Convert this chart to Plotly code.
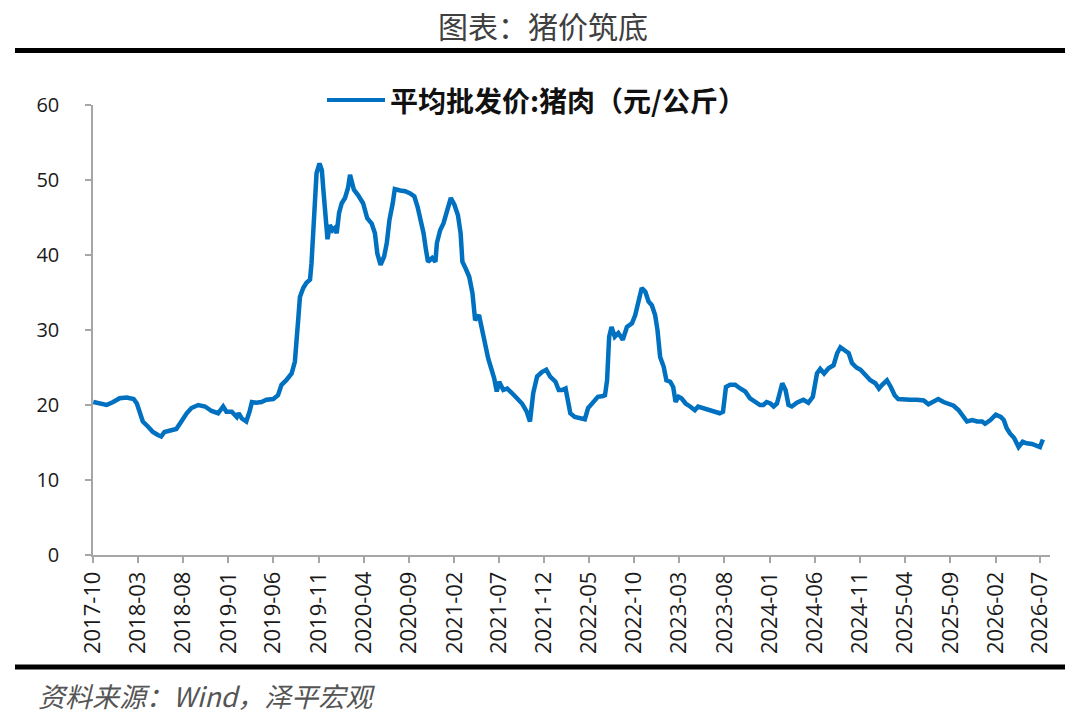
import plotly.graph_objects as go

title_text = "图表：猪价筑底"
series_name = "平均批发价:猪肉（元/公斤）"
source_text = "资料来源：Wind，泽平宏观"

dates = [
    "2017-10-02", "2017-10-24", "2017-11-16", "2017-12-08", "2017-12-30", "2018-01-23", "2018-02-15", "2018-02-26",
    "2018-03-07", "2018-03-18", "2018-04-05", "2018-04-21", "2018-05-08", "2018-05-19", "2018-05-30", "2018-06-22",
    "2018-07-09", "2018-07-26", "2018-08-13", "2018-08-29", "2018-09-21", "2018-10-14", "2018-11-05", "2018-11-27",
    "2018-12-14", "2018-12-25", "2019-01-12", "2019-01-29", "2019-02-04", "2019-02-15", "2019-03-02", "2019-03-13",
    "2019-03-21", "2019-04-05", "2019-04-22", "2019-05-09", "2019-06-01", "2019-06-17", "2019-06-29", "2019-07-15",
    "2019-08-02", "2019-08-13", "2019-08-19", "2019-08-24", "2019-08-30", "2019-09-10", "2019-09-21", "2019-10-03",
    "2019-10-08", "2019-10-14", "2019-10-19", "2019-10-25", "2019-11-04", "2019-11-12", "2019-11-17", "2019-11-23",
    "2019-12-01", "2019-12-09", "2019-12-18", "2019-12-26", "2020-01-01", "2020-01-09", "2020-01-18", "2020-01-29",
    "2020-02-08", "2020-02-15", "2020-02-21", "2020-02-28", "2020-03-13", "2020-03-30", "2020-04-13", "2020-04-28",
    "2020-05-09", "2020-05-17", "2020-05-28", "2020-06-09", "2020-06-18", "2020-06-27", "2020-07-08", "2020-07-15",
    "2020-08-02", "2020-08-19", "2020-09-05", "2020-09-19", "2020-09-30", "2020-10-11", "2020-10-20", "2020-10-28",
    "2020-11-04", "2020-11-18", "2020-11-29", "2020-12-04", "2020-12-15", "2020-12-26", "2021-01-07", "2021-01-20",
    "2021-02-01", "2021-02-13", "2021-02-22", "2021-02-28", "2021-03-11", "2021-03-23", "2021-04-03", "2021-04-12",
    "2021-04-25", "2021-05-04", "2021-05-15", "2021-05-26", "2021-06-05", "2021-06-15", "2021-06-24", "2021-07-02",
    "2021-07-16", "2021-07-29", "2021-08-14", "2021-08-30", "2021-09-17", "2021-10-03", "2021-10-14", "2021-10-25",
    "2021-11-07", "2021-11-23", "2021-12-08", "2021-12-21", "2022-01-08", "2022-01-19", "2022-01-30", "2022-02-11",
    "2022-02-19", "2022-02-27", "2022-03-14", "2022-03-30", "2022-04-17", "2022-04-28", "2022-05-15", "2022-05-31",
    "2022-06-18", "2022-06-24", "2022-07-01", "2022-07-08", "2022-07-16", "2022-07-27", "2022-08-08", "2022-08-23",
    "2022-09-06", "2022-09-23", "2022-10-04", "2022-10-15", "2022-10-26", "2022-11-07", "2022-11-18", "2022-11-29",
    "2022-12-10", "2022-12-18", "2022-12-27", "2023-01-08", "2023-01-17", "2023-01-30", "2023-02-09", "2023-02-17",
    "2023-02-27", "2023-03-09", "2023-03-23", "2023-04-07", "2023-04-23", "2023-05-04", "2023-05-21", "2023-06-13",
    "2023-06-30", "2023-07-16", "2023-07-27", "2023-08-06", "2023-08-20", "2023-09-06", "2023-09-23", "2023-10-10",
    "2023-10-26", "2023-11-13", "2023-11-29", "2023-12-10", "2023-12-21", "2024-01-03", "2024-01-14", "2024-01-25",
    "2024-02-12", "2024-02-23", "2024-03-04", "2024-03-15", "2024-04-01", "2024-04-23", "2024-05-10", "2024-05-25",
    "2024-06-08", "2024-06-19", "2024-07-02", "2024-07-17", "2024-08-03", "2024-08-15", "2024-08-26", "2024-09-09",
    "2024-09-23", "2024-10-04", "2024-10-19", "2024-11-02", "2024-11-19", "2024-12-05", "2024-12-22", "2025-01-03",
    "2025-01-14", "2025-01-30", "2025-02-12", "2025-02-25", "2025-03-09", "2025-03-26", "2025-04-18", "2025-05-11",
    "2025-06-03", "2025-06-19", "2025-07-06", "2025-07-22", "2025-08-09", "2025-08-26", "2025-09-12", "2025-09-29",
    "2025-10-15", "2025-10-27", "2025-11-14", "2025-11-30", "2025-12-17", "2025-12-27", "2026-01-14", "2026-02-01",
    "2026-02-18", "2026-02-28", "2026-03-10", "2026-03-21", "2026-04-04", "2026-04-19", "2026-05-03", "2026-05-16",
    "2026-06-03", "2026-06-19", "2026-06-30", "2026-07-10",
]

prices = [
    20.4, 20.2, 20.0, 20.4, 20.9, 21.0, 20.8, 20.2,
    18.9, 17.8, 17.1, 16.4, 16.0, 15.8, 16.4, 16.7,
    16.8, 17.8, 18.9, 19.6, 20.0, 19.8, 19.2, 18.9,
    19.8, 19.1, 19.1, 18.4, 18.9, 18.2, 17.8, 19.1,
    20.4, 20.3, 20.4, 20.7, 20.8, 21.3, 22.7, 23.3,
    24.2, 25.8, 28.2, 31.3, 34.4, 35.6, 36.3, 36.7,
    38.9, 42.9, 47.8, 50.9, 52.2, 51.3, 48.7, 45.1,
    42.1, 44.0, 43.3, 43.6, 42.9, 45.6, 46.9, 47.6,
    48.9, 50.7, 49.8, 48.7, 48.0, 46.9, 44.9, 44.2,
    42.9, 40.2, 38.7, 39.8, 41.6, 44.7, 46.9, 48.8,
    48.6, 48.5, 48.2, 47.8, 46.4, 44.7, 42.9, 40.7,
    39.1, 39.6, 39.1, 41.6, 43.3, 44.2, 46.0, 47.6,
    46.7, 45.3, 42.9, 39.1, 38.2, 37.1, 34.9, 31.3,
    32.0, 30.2, 28.2, 26.2, 24.9, 23.6, 21.8, 23.1,
    22.0, 22.2, 21.6, 20.9, 20.2, 19.1, 17.8, 21.6,
    23.8, 24.4, 24.7, 23.8, 23.1, 22.0, 22.0, 22.2,
    20.2, 18.9, 18.4, 18.2, 18.1, 19.6, 20.4, 21.1,
    21.2, 21.3, 23.3, 29.1, 30.4, 29.1, 29.6, 28.7,
    30.4, 30.9, 32.0, 33.6, 35.6, 35.1, 33.8, 33.3,
    32.0, 30.0, 26.4, 25.1, 23.3, 23.1, 22.4, 20.4,
    21.1, 20.9, 20.2, 19.8, 19.3, 19.8, 19.6, 19.3,
    19.1, 18.9, 19.1, 22.4, 22.7, 22.7, 22.2, 21.8,
    20.9, 20.4, 20.0, 20.0, 20.4, 20.2, 19.8, 20.2,
    22.9, 22.0, 20.0, 19.8, 20.3, 20.7, 20.3, 21.1,
    24.2, 24.8, 24.2, 24.9, 25.3, 26.9, 27.7, 27.3,
    26.9, 25.6, 25.0, 24.7, 24.0, 23.3, 22.9, 22.2,
    22.7, 23.3, 22.4, 21.3, 20.8, 20.7, 20.7, 20.7,
    20.6, 20.1, 20.4, 20.8, 20.4, 20.1, 19.9, 19.3,
    18.4, 17.8, 18.0, 17.8, 17.8, 17.5, 18.0, 18.7,
    18.4, 18.0, 16.9, 16.2, 15.6, 14.4, 15.1, 14.9,
    14.8, 14.5, 14.4, 15.4,
]

tick_labels = [
    "2017-10", "2018-03", "2018-08", "2019-01", "2019-06", "2019-11", "2020-04", "2020-09",
    "2021-02", "2021-07", "2021-12", "2022-05", "2022-10", "2023-03", "2023-08", "2024-01",
    "2024-06", "2024-11", "2025-04", "2025-09", "2026-02", "2026-07",
]
y_ticks = [0, 10, 20, 30, 40, 50, 60]

# layout geometry (pixels)
L, R, T, B = 93, 30, 105, 165
PW = 1080 - L - R
PH = 720 - T - B


def px(x):
    return (x - L) / PW


def py(y):
    return (720 - B - y) / PH


LINE_COLOR = "#0070C0"
AXIS_COLOR = "#A6A6A6"

fig = go.Figure()
fig.add_trace(go.Scatter(
    x=dates, y=prices, mode="lines", name=series_name,
    line=dict(color=LINE_COLOR, width=4.5), showlegend=False,
))

fig.update_layout(
    width=1080, height=720,
    margin=dict(l=L, r=R, t=T, b=B),
    paper_bgcolor="white", plot_bgcolor="white",
    font=dict(family="Open Sans, Noto Sans CJK SC, sans-serif", color="#333333"),
    xaxis=dict(
        type="date",
        range=["2017-10-01", "2026-08-03"],
        tickvals=[t + "-01" for t in tick_labels],
        ticktext=tick_labels,
        tickangle=-90,
        ticks="outside", ticklen=6, tickcolor=AXIS_COLOR, tickwidth=1.5,
        showline=True, linecolor=AXIS_COLOR, linewidth=1.5,
        showgrid=False, zeroline=False,
        tickfont=dict(size=22, color="#1a1a1a", family="Open Sans"),
    ),
    yaxis=dict(
        range=[0, 60],
        tickvals=y_ticks,
        ticks="outside", ticklen=6, tickcolor=AXIS_COLOR, tickwidth=1.5,
        showline=True, linecolor=AXIS_COLOR, linewidth=1.5,
        showgrid=False, zeroline=False,
        tickfont=dict(size=20, color="#1a1a1a", family="Open Sans"),
        ticklabelstandoff=22,
    ),
)

shapes = [
    # thick rule under the title
    dict(type="line", xref="paper", yref="paper", x0=px(15), x1=px(1065), y0=py(50.5), y1=py(50.5),
         line=dict(color="black", width=5)),
    # thick rule above the source
    dict(type="line", xref="paper", yref="paper", x0=px(15), x1=px(1065), y0=py(667), y1=py(667),
         line=dict(color="black", width=5)),
    # legend sample line
    dict(type="line", xref="paper", yref="paper", x0=px(327), x1=px(385), y0=py(100), y1=py(100),
         line=dict(color=LINE_COLOR, width=4)),
]
fig.update_layout(shapes=shapes)

annotations = [
    dict(text=title_text, xref="paper", yref="paper", x=px(543), y=py(25), xanchor="center", yanchor="middle",
         showarrow=False, font=dict(size=30, color="#404040", family="Noto Sans CJK SC")),
    dict(text="<b>" + series_name + "</b>", xref="paper", yref="paper", x=px(388), y=py(100),
         xanchor="left", yanchor="middle", showarrow=False,
         font=dict(size=28, color="#111111", family="Noto Sans CJK SC")),
    dict(text="<i>" + source_text + "</i>", xref="paper", yref="paper", x=px(36), y=py(695),
         xanchor="left", yanchor="middle", showarrow=False,
         font=dict(size=27, color="#555555", family="Noto Sans CJK SC")),
]
fig.update_layout(annotations=annotations)

fig.write_html("out.html")
